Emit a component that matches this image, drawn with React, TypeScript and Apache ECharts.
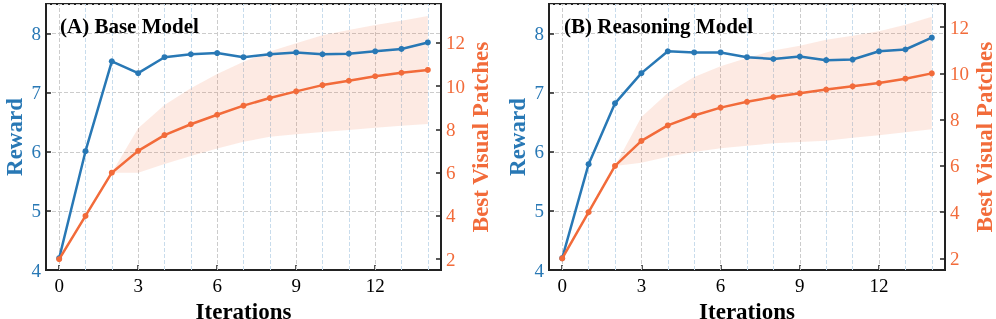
import React, { useEffect, useRef } from 'react';
import * as echarts from 'echarts';

const iterations = ['0', '1', '2', '3', '4', '5', '6', '7', '8', '9', '10', '11', '12', '13', '14'];
const xTickLabels = ['0', '3', '6', '9', '12'];
const rewardTicks = [4, 5, 6, 7, 8];
const patchTicks = [2, 4, 6, 8, 10, 12];

const panelTitles = ['(A) Base Model', '(B) Reasoning Model'];

const rewardBase = [4.2, 6.01, 7.53, 7.33, 7.6, 7.65, 7.67, 7.6, 7.65, 7.68, 7.65, 7.66, 7.7, 7.74, 7.85];
const patchesBase = [2.0, 4.0, 6.0, 7.01, 7.74, 8.24, 8.68, 9.1, 9.45, 9.76, 10.05, 10.25, 10.46, 10.62, 10.75];
const patchesBaseLow = [2.0, 4.0, 6.0, 6.0, 6.4, 6.77, 7.12, 7.43, 7.66, 7.78, 7.88, 7.97, 8.08, 8.17, 8.25];
const patchesBaseHigh = [2.0, 4.0, 6.0, 8.05, 9.13, 9.9, 10.56, 11.13, 11.6, 11.99, 12.35, 12.6, 12.83, 13.03, 13.25];

const rewardReason = [4.2, 5.79, 6.82, 7.33, 7.7, 7.68, 7.68, 7.6, 7.57, 7.61, 7.55, 7.56, 7.7, 7.73, 7.93];
const patchesReason = [2.0, 4.0, 6.0, 7.08, 7.75, 8.18, 8.52, 8.77, 8.98, 9.14, 9.3, 9.44, 9.58, 9.77, 10.0];
const patchesReasonLow = [2.0, 4.0, 6.0, 6.14, 6.4, 6.6, 6.76, 6.87, 6.98, 7.03, 7.09, 7.22, 7.33, 7.45, 7.58];
const patchesReasonHigh = [2.0, 4.0, 6.0, 8.12, 9.15, 9.84, 10.31, 10.67, 10.99, 11.2, 11.45, 11.63, 11.82, 12.1, 12.45];

const BLUE = '#2878B5';
const ORANGE = '#F26B3A';
const FONT = 'Liberation Serif';
const SPINE = '#222222';

export default function App() {
  const ref = useRef<HTMLDivElement>(null);

  useEffect(() => {
    if (!ref.current) return;
    const chart = echarts.init(ref.current, undefined, { renderer: 'svg' });

    const grids = [
      { left: 46, top: 4, width: 395, height: 266 },
      { left: 549, top: 4, width: 396, height: 266 },
    ];
    const rightMax = [13.8, 13.0];
    const panels = [
      { reward: rewardBase, patches: patchesBase, low: patchesBaseLow, high: patchesBaseHigh },
      { reward: rewardReason, patches: patchesReason, low: patchesReasonLow, high: patchesReasonHigh },
    ];

    const xAxes: any[] = [];
    const yAxes: any[] = [];
    const series: any[] = [];

    panels.forEach((p, k) => {
      xAxes.push({
        type: 'category',
        gridIndex: k,
        data: iterations,
        boundaryGap: true,
        name: 'Iterations',
        nameLocation: 'middle',
        nameGap: 24,
        nameTextStyle: { fontFamily: FONT, fontWeight: 'bold', fontSize: 23, color: '#000' },
        axisLine: { show: true, lineStyle: { color: SPINE, width: 2 } },
        axisTick: {
          show: true,
          inside: true,
          length: 5,
          alignWithLabel: true,
          interval: (i: number) => xTickLabels.includes(iterations[i]),
          lineStyle: { color: SPINE, width: 1.5 },
        },
        axisLabel: {
          interval: (i: number) => xTickLabels.includes(iterations[i]),
          fontFamily: FONT,
          fontSize: 19,
          color: '#000',
          margin: 6,
        },
        splitLine: { show: false },
      });
      yAxes.push({
        type: 'value',
        gridIndex: k,
        position: 'left',
        min: 4,
        max: 8.5,
        interval: 1,
        name: 'Reward',
        nameLocation: 'middle',
        nameGap: 20,
        nameTextStyle: { fontFamily: FONT, fontWeight: 'bold', fontSize: 23, color: BLUE },
        axisLine: { show: true, lineStyle: { color: SPINE, width: 2 } },
        axisTick: { show: true, inside: true, length: 5, lineStyle: { color: SPINE, width: 1.5 } },
        axisLabel: {
          showMaxLabel: false,
          fontFamily: FONT,
          fontSize: 19,
          color: BLUE,
          margin: 5,
          formatter: (v: number) => (rewardTicks.includes(v) ? String(v) : ''),
        },
        splitLine: { show: true, lineStyle: { color: '#cccccc', type: 'dashed', width: 1 } },
      });
      yAxes.push({
        type: 'value',
        gridIndex: k,
        position: 'right',
        min: 1.5,
        max: rightMax[k],
        name: 'Best Visual Patches',
        nameLocation: 'middle',
        nameGap: 24,
        nameTextStyle: { fontFamily: FONT, fontWeight: 'bold', fontSize: 23, color: ORANGE },
        axisLine: { show: true, lineStyle: { color: SPINE, width: 2 } },
        axisTick: { show: true, inside: true, length: 5, customValues: patchTicks, lineStyle: { color: SPINE, width: 1.5 } },
        axisLabel: {
          customValues: patchTicks,
          fontFamily: FONT,
          fontSize: 19,
          color: ORANGE,
          margin: 5,
        },
        splitLine: { show: false },
      });

      const leftY = k * 2;
      const rightY = k * 2 + 1;
      const stackName = 'band' + k;
      series.push({
        type: 'line',
        xAxisIndex: k,
        yAxisIndex: rightY,
        data: p.low,
        stack: stackName,
        symbol: 'none',
        lineStyle: { opacity: 0 },
        silent: true,
        z: 2,
        markLine: {
          silent: true,
          symbol: 'none',
          z: 1,
          label: { show: false },
          animation: false,
          data: iterations.map((c, i) => ({
            xAxis: i,
            lineStyle: {
              color: xTickLabels.includes(c) ? '#cccccc' : '#c8dcec',
              type: 'dashed',
              width: 1,
            },
          })),
        },
      });
      series.push({
        type: 'line',
        xAxisIndex: k,
        yAxisIndex: rightY,
        data: p.high.map((h, i) => +(h - p.low[i]).toFixed(3)),
        stack: stackName,
        symbol: 'none',
        lineStyle: { opacity: 0 },
        areaStyle: { color: 'rgba(242,107,58,0.2)' },
        silent: true,
        z: 2,
      });
      series.push({
        type: 'line',
        xAxisIndex: k,
        yAxisIndex: leftY,
        data: p.reward,
        symbol: 'circle',
        symbolSize: 6,
        itemStyle: { color: BLUE },
        lineStyle: { color: BLUE, width: 2.5 },
        z: 3,
      });
      series.push({
        type: 'line',
        xAxisIndex: k,
        yAxisIndex: rightY,
        data: p.patches,
        symbol: 'circle',
        symbolSize: 6,
        itemStyle: { color: ORANGE },
        lineStyle: { color: ORANGE, width: 2.5 },
        z: 4,
      });
    });

    chart.setOption({
      animation: false,
      textStyle: { fontFamily: FONT },
      title: [
        { text: panelTitles[0], left: 55, top: 10, textStyle: { fontFamily: FONT, fontWeight: 'bold', fontSize: 21, color: '#000' } },
        { text: panelTitles[1], left: 559, top: 10, textStyle: { fontFamily: FONT, fontWeight: 'bold', fontSize: 21, color: '#000' } },
      ],
      grid: grids.map((g) => ({
        ...g,
        show: true,
        borderColor: SPINE,
        borderWidth: 2,
        backgroundColor: 'transparent',
        outerBoundsMode: 'none',
      })),
      xAxis: xAxes,
      yAxis: yAxes,
      series,
    });

    return () => chart.dispose();
  }, []);

  return <div ref={ref} style={{ position: 'fixed', left: 0, top: 0, width: 996, height: 319 }} />;
}
